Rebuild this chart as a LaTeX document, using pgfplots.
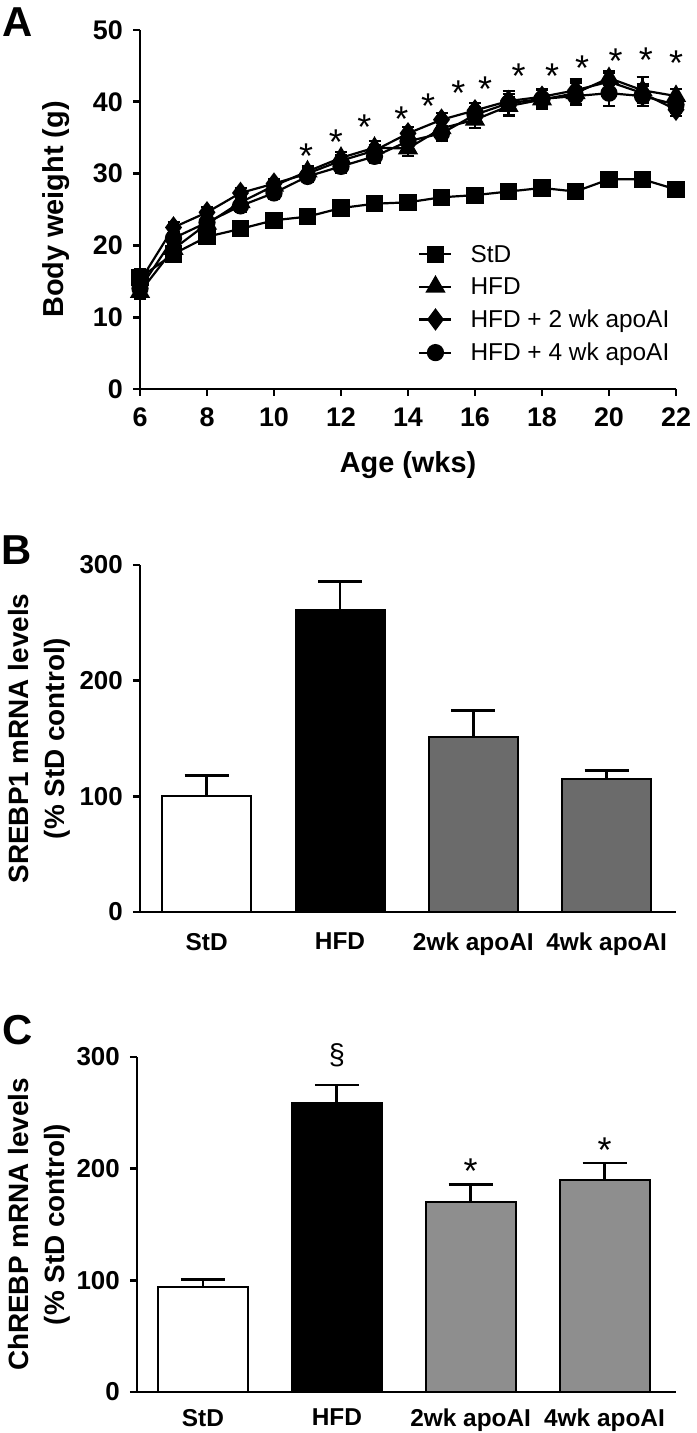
\documentclass[border=0pt]{standalone}
\usepackage{pgfplots}
\usepackage{pgfplotstable}
\pgfplotsset{compat=1.18}
\usepackage{fontspec}
\setmainfont{Liberation Sans}
\definecolor{barB}{HTML}{6B6B6B}
\definecolor{barC}{HTML}{8E8E8E}
\newcommand{\fs}[1]{\fontsize{#1}{#1}\selectfont}
\tikzset{starA/.style={font=\fs{36}, inner sep=0pt, anchor=base, yshift=-20bp}}
\pgfplotsset{
  gpaxis/.style={
    scale only axis,
    axis x line*=bottom, axis y line*=left,
    axis line style={line width=2.8bp, -},
    tick align=outside,
    major tick length=7bp,
    tick style={line width=2.8bp, black},
    /pgf/number format/assume math mode=true,
    ticklabel style={font=\fs{26}\bfseries},
    label style={font=\fs{29}\bfseries},
    yticklabel style={inner sep=0pt, xshift=-10bp},
    clip=false,
  },
  lineA/.style={black, line width=2.2bp, mark options={solid, fill=black},
    /pgfplots/error bars/y dir=both, /pgfplots/error bars/y explicit,
    /pgfplots/error bars/error bar style={line width=2.2bp},
    /pgfplots/error bars/error mark options={rotate=90, mark size=6bp, line width=2.2bp}},
  barS/.style={ybar, bar shift=0pt, draw=black, line width=2bp,
    /pgfplots/error bars/y dir=plus, /pgfplots/error bars/y explicit,
    /pgfplots/error bars/error bar style={line width=2.8bp, black},
    /pgfplots/error bars/error mark options={rotate=90, mark size=22bp, line width=2.8bp, black}},
}
\pgfplotstableread{
w  s    se   h    he   d    de   c    ce
6  15.5 1.2  13.5 1.0  15.0 1.2  14.0 1.0
7  18.8 0.9  19.5 1.0  22.5 0.8  21.0 0.9
8  21.2 0.6  23.0 0.9  24.6 0.7  23.2 0.8
9  22.3 0.5  26.0 0.8  27.3 0.7  25.5 0.8
10 23.5 0.5  28.3 0.8  28.6 0.7  27.3 0.8
11 24.0 0.5  30.3 0.8  30.0 0.8  29.6 0.8
12 25.2 0.6  32.2 0.8  31.8 0.8  31.0 0.9
13 25.8 0.6  33.6 0.9  33.2 0.8  32.4 0.9
14 26.0 0.6  33.5 1.0  35.6 0.9  34.5 0.9
15 26.7 0.6  36.3 1.0  37.5 0.9  35.6 1.0
16 27.0 0.6  37.5 1.1  38.8 1.0  38.2 1.0
17 27.5 0.6  39.4 1.2  40.1 1.0  39.8 1.7
18 28.0 0.7  40.3 1.3  40.7 1.1  40.4 1.2
19 27.5 0.7  41.2 1.5  41.6 1.5  40.8 1.3
20 29.2 0.7  43.3 1.0  42.8 1.2  41.2 1.8
21 29.2 0.7  41.6 1.8  41.2 1.3  40.8 1.4
22 27.8 0.7  40.8 1.0  38.9 0.9  39.6 1.2
}\Adata
\begin{document}
\begin{tikzpicture}
\useasboundingbox (0,0) rectangle (697bp,1433bp);
% ---------------- Panel A ----------------
\begin{axis}[gpaxis, at={(140bp,1044bp)}, anchor=south west,
  width=536bp, height=359bp,
  xmin=6, xmax=22, ymin=0, ymax=50,
  xtick={6,8,...,22}, ytick={0,10,...,50},
  ticklabel style={font=\fs{27}\bfseries},
  xticklabel style={inner sep=0pt, yshift=-12bp},
  xlabel={Age (wks)},
  xlabel style={at={(axis description cs:0.5,0)}, anchor=north, yshift=-62bp, inner sep=0pt},
  ylabel={Body weight (g)},
  ylabel style={at={(axis description cs:-0.1306,0.5)}, anchor=south, inner sep=0pt},
  legend style={at={(0.519,0.407)}, anchor=north west, draw=none, fill=none,
    font=\fs{24.5}, row sep=10bp, column sep=16bp, inner sep=0pt},
  legend cell align=left,
  legend image code/.code={
    \draw[#1, mark repeat=2, mark phase=2] plot coordinates {(0bp,0bp) (16bp,0bp) (32bp,0bp)};
  },
]
\addplot[lineA, mark=square*, mark size=7.5bp] table[x=w, y=s, y error=se] {\Adata};
\addlegendentry{StD}
\addplot[lineA, mark=triangle*, mark size=9.5bp] table[x=w, y=h, y error=he] {\Adata};
\addlegendentry{HFD}
\addplot[lineA, mark=diamond*, mark size=9.5bp] table[x=w, y=d, y error=de] {\Adata};
\addlegendentry{HFD + 2 wk apoAI}
\addplot[lineA, mark=*, mark size=7.5bp] table[x=w, y=c, y error=ce] {\Adata};
\addlegendentry{HFD + 4 wk apoAI}
\node[starA] at (axis cs:10.96,33.5) {*};
\node[starA] at (axis cs:11.85,35.4) {*};
\node[starA] at (axis cs:12.7,37.5) {*};
\node[starA] at (axis cs:13.8,38.6) {*};
\node[starA] at (axis cs:14.6,40.5) {*};
\node[starA] at (axis cs:15.5,42.3) {*};
\node[starA] at (axis cs:16.3,42.8) {*};
\node[starA] at (axis cs:17.3,44.7) {*};
\node[starA] at (axis cs:18.3,44.7) {*};
\node[starA] at (axis cs:19.2,45.8) {*};
\node[starA] at (axis cs:20.2,46.7) {*};
\node[starA] at (axis cs:21.1,46.9) {*};
\node[starA] at (axis cs:22.0,46.5) {*};
\end{axis}
% ---------------- Panel B ----------------
\begin{axis}[gpaxis, at={(140bp,521bp)}, anchor=south west,
  width=536bp, height=347bp,
  xmin=-0.5, xmax=3.52, ymin=0, ymax=300, ytick={0,100,200,300},
  xtick={0,1,2,3}, xticklabels={StD,HFD,2wk apoAI,4wk apoAI},
  xtick style={draw=none},
  xticklabel style={inner sep=0pt, yshift=-14bp, font=\fs{24.5}\bfseries},
  ylabel={SREBP1 mRNA levels\\(\% StD control)},
  ylabel style={align=center, font=\fontsize{28}{36}\selectfont\bfseries,
    at={(axis description cs:-0.1306,0.5)}, anchor=south, inner sep=0pt},
]
\addplot[barS, bar width=89bp, fill=white] coordinates {(0,100) +- (0,18)};
\addplot[barS, bar width=89bp, fill=black] coordinates {(1,261) +- (0,25)};
\addplot[barS, bar width=89bp, fill=barB] coordinates {(2,151) +- (0,23)};
\addplot[barS, bar width=89bp, fill=barB] coordinates {(3,115) +- (0,7)};
\end{axis}
% ---------------- Panel C ----------------
\begin{axis}[gpaxis, at={(137bp,41bp)}, anchor=south west,
  width=539bp, height=335bp,
  xmin=-0.493, xmax=3.534, ymin=0, ymax=300, ytick={0,100,200,300},
  xtick={0,1,2,3}, xticklabels={StD,HFD,2wk apoAI,4wk apoAI},
  xtick style={draw=none},
  xticklabel style={inner sep=0pt, yshift=-10bp, font=\fs{24.5}\bfseries},
  ylabel={ChREBP mRNA levels\\(\% StD control)},
  ylabel style={align=center, font=\fontsize{28}{36}\selectfont\bfseries,
    at={(axis description cs:-0.124,0.5)}, anchor=south, inner sep=0pt},
]
\addplot[barS, bar width=90bp, fill=white] coordinates {(0,94) +- (0,7)};
\addplot[barS, bar width=90bp, fill=black] coordinates {(1,259) +- (0,16)};
\addplot[barS, bar width=90bp, fill=barC] coordinates {(2,170) +- (0,16)};
\addplot[barS, bar width=90bp, fill=barC] coordinates {(3,190) +- (0,15)};
\node[font=\fs{29}, anchor=center] at (axis cs:1,302) {\S};
\node[starA] at (axis cs:2,205) {*};
\node[starA] at (axis cs:3,223) {*};
\end{axis}
% panel letters
\node[font=\fs{42}\bfseries] at (18bp,1411bp) {A};
\node[font=\fs{42}\bfseries] at (17bp,883bp) {B};
\node[font=\fs{42}\bfseries] at (18bp,403bp) {C};
\end{tikzpicture}
\end{document}
